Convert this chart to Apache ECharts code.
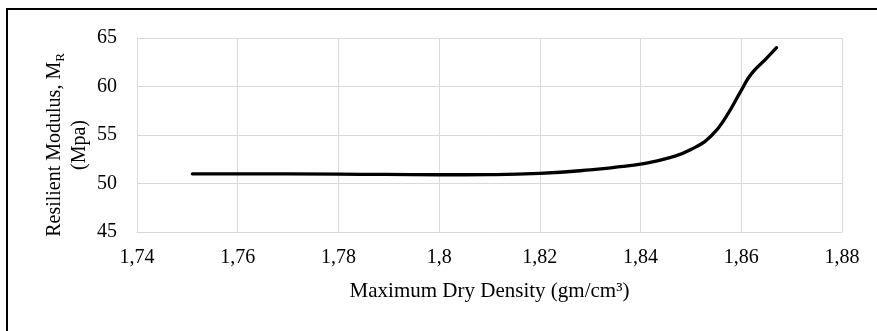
<!DOCTYPE html>
<html>
<head>
<meta charset="utf-8">
<script src="https://cdn.jsdelivr.net/npm/echarts@6/dist/echarts.min.js"></script>
<style>
  html, body { margin: 0; padding: 0; background: #fff; }
  #chart { width: 877px; height: 331px; }
</style>
</head>
<body>
<div id="chart"></div>
<script>
// Maximum dry density (gm/cm3) against resilient modulus (MPa)
const density = [1.751, 1.76, 1.78, 1.80, 1.81, 1.82, 1.83, 1.836, 1.84, 1.846, 1.85, 1.854, 1.857, 1.86, 1.862, 1.865, 1.867];
const modulus = [51.0, 51.0, 50.97, 50.9, 50.92, 51.05, 51.4, 51.73, 52.0, 52.7, 53.5, 54.9, 56.9, 59.6, 61.3, 62.9, 64.0];

const xTicks = { min: 1.74, max: 1.88, step: 0.02 };
const yTicks = { min: 45, max: 65, step: 5 };

const serif = '"Liberation Serif", "Times New Roman", serif';
const gridColor = '#d9d9d9';

const points = density.map((d, i) => [d, modulus[i]]);

const chart = echarts.init(document.getElementById('chart'), null, { renderer: 'canvas' });

chart.setOption({
  animation: false,
  backgroundColor: '#fff',
  grid: { left: 137, right: 35, top: 38, bottom: 99 },
  xAxis: {
    type: 'value',
    min: xTicks.min,
    max: xTicks.max,
    interval: xTicks.step,
    axisLine: { show: true, lineStyle: { color: gridColor, width: 1 } },
    axisTick: { show: false },
    splitLine: { show: true, lineStyle: { color: gridColor, width: 1 } },
    axisLabel: {
      margin: 16,
      color: '#000',
      fontFamily: serif,
      fontSize: 20,
      formatter: v => String(Number(v.toFixed(2))).replace('.', ',')
    }
  },
  yAxis: {
    type: 'value',
    min: yTicks.min,
    max: yTicks.max,
    interval: yTicks.step,
    axisLine: { show: true, lineStyle: { color: gridColor, width: 1 } },
    axisTick: { show: false },
    splitLine: { show: true, lineStyle: { color: gridColor, width: 1 } },
    axisLabel: {
      margin: 20,
      color: '#000',
      fontFamily: serif,
      fontSize: 20
    }
  },
  series: [{
    type: 'line',
    data: points,
    smooth: 0.5,
    showSymbol: false,
    symbol: 'none',
    lineStyle: { color: '#000', width: 3.3, cap: 'round', join: 'round' }
  }],
  graphic: [
    {
      type: 'rect',
      silent: true,
      shape: { x: 7, y: 9, width: 900, height: 360 },
      style: { fill: null, stroke: '#000', lineWidth: 2 }
    },
    {
      type: 'text',
      silent: true,
      x: 67,
      y: 145,
      rotation: Math.PI / 2,
      style: {
        text: '{a|Resilient Modulus, M}{s|R}\n{a|(Mpa)}',
        align: 'center',
        verticalAlign: 'middle',
        fill: '#000',
        rich: {
          a: { fontFamily: serif, fontSize: 20, lineHeight: 25, fill: '#000' },
          s: { fontFamily: serif, fontSize: 13, lineHeight: 25, verticalAlign: 'bottom', fill: '#000' }
        }
      }
    },
    {
      type: 'text',
      silent: true,
      x: 489.5,
      y: 291,
      style: {
        text: 'Maximum Dry Density (gm/cm³)',
        align: 'center',
        verticalAlign: 'middle',
        fill: '#000',
        font: '21px ' + serif
      }
    }
  ]
});
</script>
</body>
</html>
